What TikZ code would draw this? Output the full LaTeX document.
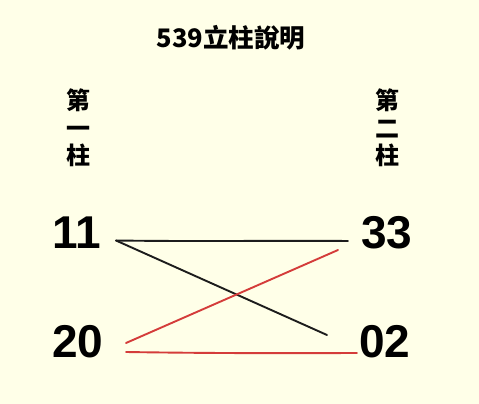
\documentclass[tikz,border=0pt]{standalone}
\usepackage{fontspec}
\setmainfont{Liberation Sans}
\newfontfamily\cjkfont{Noto Sans CJK TC}
\usetikzlibrary{calc}
\definecolor{bgcol}{RGB}{255,255,232}
\definecolor{penred}{RGB}{212,60,58}
\definecolor{penblack}{RGB}{28,28,28}
\tikzset{
  num/.style={inner sep=0pt, font=\fontsize{46}{46}\selectfont\bfseries},
  collabel/.style={inner sep=0pt, align=center, font=\cjkfont\bfseries\fontsize{24}{27.5}\selectfont},
  blackpen/.style={draw=penblack, line width=1.9pt, line cap=round},
  redpen/.style={draw=penred, line width=1.9pt, line cap=round},
}
\begin{document}
\begin{tikzpicture}[x=1pt,y=-1pt]
\fill[bgcol] (0,0) rectangle (479,404);
\useasboundingbox (0,0) rectangle (479,404);
\node[inner sep=0pt, font=\cjkfont\bfseries\fontsize{25.5}{25.5}\selectfont] (title) at (231,38) {539立柱說明};
\node[collabel] (c1) at (78,128) {第\\一\\柱};
\node[collabel] (c2) at (387,128) {第\\二\\柱};
\node[num] (n11) at (77,233) {11};
\node[num] (n33) at (387,233) {33};
\node[num] (n20) at (78,342) {20};
\node[num] (n02) at (385,342) {02};
\coordinate (s11) at (116,240.5);
\coordinate (e33a) at (348,241);
\coordinate (e33b) at (338,250);
\coordinate (e02) at (327,335);
\coordinate (s20a) at (126,343);
\coordinate (s20b) at (126,352);
\coordinate (e02b) at (357,353);
\draw[blackpen] (s11) .. controls ($(s11)!0.4!(e33a)+(0,1)$) and ($(s11)!0.7!(e33a)+(0,-0.5)$) .. (e33a);
\draw[blackpen] (s11) -- (e02);
\draw[redpen] (s20a) -- (e33b);
\draw[redpen] (s20b) .. controls ($(s20b)!0.4!(e02b)+(0,1)$) and ($(s20b)!0.7!(e02b)+(0,0.5)$) .. (e02b);
\end{tikzpicture}
\end{document}
